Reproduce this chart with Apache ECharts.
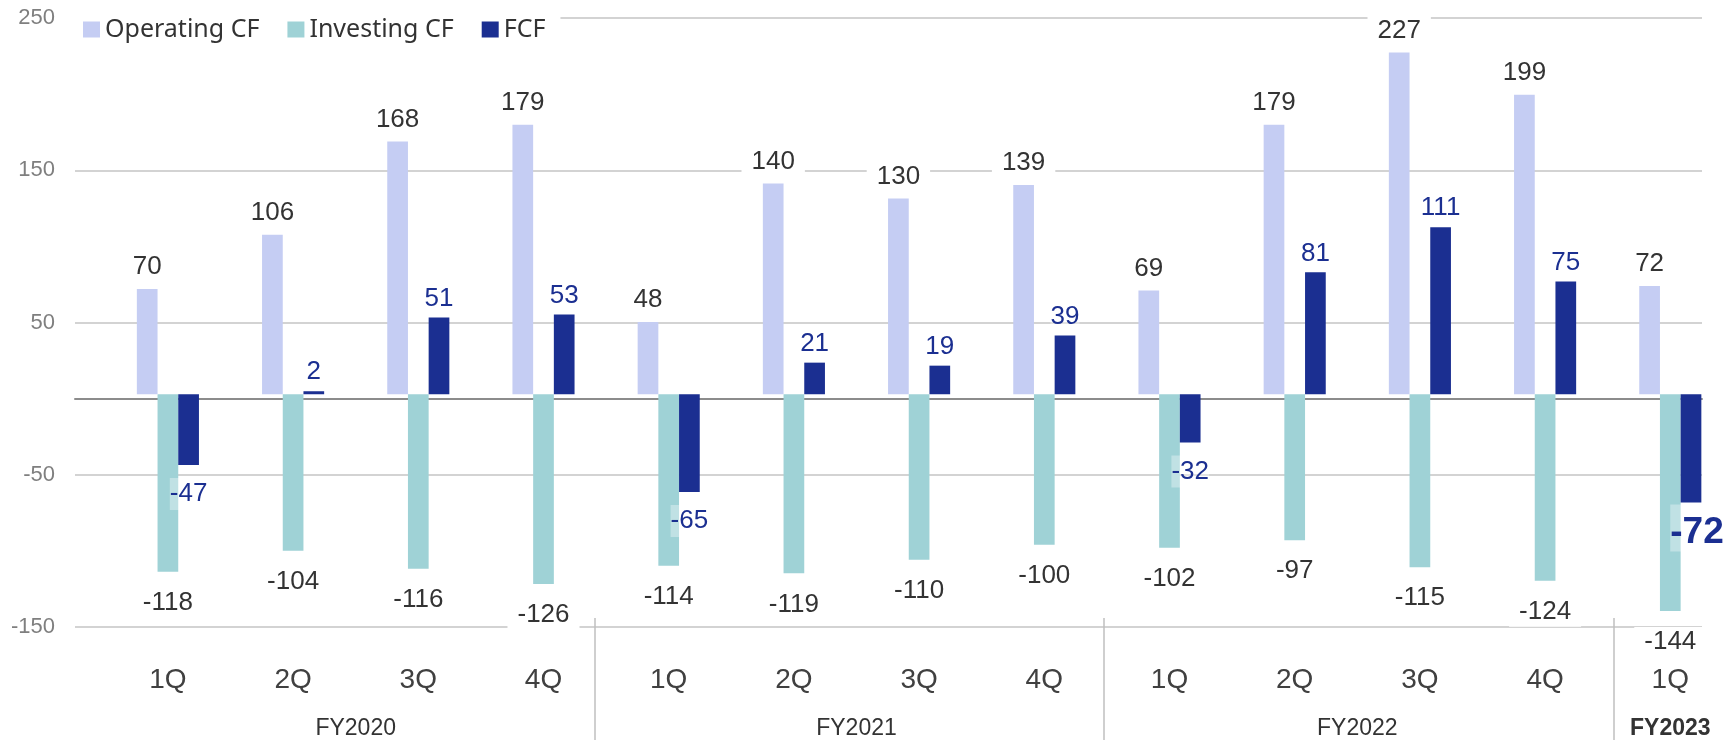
<!DOCTYPE html>
<html>
<head>
<meta charset="utf-8">
<style>
  html, body { margin: 0; padding: 0; background: #ffffff; overflow: hidden; }
  /* canvas runs a little past the window so the last band keeps its full width */
  #chart { width: 1760px; height: 740px; }
</style>
<script src="https://cdn.jsdelivr.net/npm/echarts@6/dist/echarts.min.js"></script>
</head>
<body>
<div id="chart"></div>
<script>
// Quarterly cash flow by fiscal year
const quarters = ['1Q', '2Q', '3Q', '4Q', '1Q', '2Q', '3Q', '4Q', '1Q', '2Q', '3Q', '4Q', '1Q'];
const fiscalYears = ['FY2020', 'FY2020', 'FY2020', 'FY2020',
                     'FY2021', 'FY2021', 'FY2021', 'FY2021',
                     'FY2022', 'FY2022', 'FY2022', 'FY2022',
                     'FY2023'];
const operatingCF = [70, 106, 168, 179, 48, 140, 130, 139, 69, 179, 227, 199, 72];
const investingCF = [-118, -104, -116, -126, -114, -119, -110, -100, -102, -97, -115, -124, -144];
const freeCF = [-47, 2, 51, 53, -65, 21, 19, 39, -32, 81, 111, 75, -72];
const seriesNames = ['Operating CF', 'Investing CF', 'FCF'];
const yMin = -150, yMax = 250, yStep = 100;

// layout
const W = 1760, H = 740;
const plotLeft = 75, plotRight = 1702, plotTop = 18, plotBottom = 627;
const barsLeft = 105.3, band = 125.2;
const barsWidth = band * quarters.length;
// the year separators sit on a slightly wider band than the bars
const sepLeft = 85.8, sepBand = 127.3;

const colors = { op: '#c5cdf3', inv: '#9fd2d6', fcf: '#1b2f91', text: '#333333', axis: '#7f7f7f', grid: '#c4c4c4', zero: '#8c8c8c' };
const FONT = '"Liberation Sans", Arial, sans-serif';

// fiscal-year groups, label anchored at the middle of each group
const groups = [];
fiscalYears.forEach((fy, i) => {
  if (!groups.length || groups[groups.length - 1].name !== fy) groups.push({ name: fy, start: i, count: 0 });
  groups[groups.length - 1].count++;
});
const anchorOf = {};
groups.forEach(g => { anchorOf[g.start + Math.floor((g.count - 1) / 2)] = g; });
const latestYear = groups[groups.length - 1].name;

const fyText = { fontSize: 23, color: '#333333', fontFamily: FONT };

const commonLabel = {
  show: true, fontSize: 26, fontFamily: FONT, color: colors.text,
  backgroundColor: '#ffffff', padding: [2, 10]
};
const fcfLabel = {
  show: true, fontSize: 26, fontFamily: FONT, color: colors.fcf,
  backgroundColor: 'rgba(255,255,255,0.35)', padding: [3, 0]
};

const fcfData = freeCF.map((v, i) => {
  if (i === freeCF.length - 1) {
    return { value: v, label: Object.assign({}, fcfLabel, {
      position: 'bottom', distance: 2, offset: [6, 0], fontSize: 37, fontWeight: 'bold', padding: [10, 0, 0, 0]
    }) };
  }
  return { value: v, label: Object.assign({}, fcfLabel, v < 0
    ? { position: 'bottom', distance: 13 }
    : { position: 'top', distance: 3 }) };
});

const chart = echarts.init(document.getElementById('chart'), null, { renderer: 'canvas', width: W, height: H });

chart.setOption({
  animation: false,
  backgroundColor: '#ffffff',
  legend: {
    data: seriesNames,
    left: plotLeft, top: 13,
    padding: [4, 15, 4, 8],
    backgroundColor: '#ffffff',
    itemWidth: 17, itemHeight: 16, itemGap: 28,
    icon: 'rect',
    textStyle: { fontSize: 25, color: '#333333', fontFamily: '"Noto Sans", sans-serif' }
  },
  grid: [
    { left: plotLeft, width: plotRight - plotLeft, top: plotTop, height: plotBottom - plotTop, containLabel: false },
    { left: barsLeft, width: barsWidth, top: plotTop, height: plotBottom - plotTop, containLabel: false },
    { left: sepLeft, width: sepBand * quarters.length, top: plotTop, height: plotBottom - plotTop, containLabel: false }
  ],
  yAxis: [
    {
      gridIndex: 0, type: 'value', min: yMin, max: yMax, interval: yStep,
      axisLine: { show: false }, axisTick: { show: false },
      axisLabel: { fontSize: 22, color: colors.axis, fontFamily: FONT, margin: 20 },
      splitLine: { show: true, lineStyle: { color: colors.grid, width: 1.5 } }
    },
    { gridIndex: 1, type: 'value', min: yMin, max: yMax, interval: yStep, show: false },
    { gridIndex: 2, type: 'value', min: yMin, max: yMax, interval: yStep, show: false }
  ],
  xAxis: [
    {
      // zero baseline across the plot area
      gridIndex: 0, type: 'category', data: [''],
      axisLine: { show: true, onZero: true, lineStyle: { color: colors.zero, width: 2 } },
      axisTick: { show: false }, axisLabel: { show: false }, splitLine: { show: false }
    },
    {
      gridIndex: 1, type: 'category', data: quarters, position: 'bottom',
      axisLine: { show: false, onZero: false }, axisTick: { show: false },
      axisLabel: { interval: 0, fontSize: 28, color: '#404040', fontFamily: FONT, margin: 46 }
    },
    {
      // fiscal-year names centred under their quarters
      gridIndex: 1, type: 'category', data: fiscalYears, position: 'bottom',
      axisLine: { show: false, onZero: false }, axisTick: { show: false },
      axisLabel: {
        margin: 97,
        interval: (i) => i in anchorOf,
        formatter: (v, i) => {
          const g = anchorOf[i];
          if (!g) return '';
          const key = (g.name === latestYear ? 'b' : 'n') + (g.count % 2 === 0 ? 's' : '');
          return '{' + key + '|' + g.name + '}';
        },
        rich: {
          n: fyText,
          ns: Object.assign({}, fyText, { padding: [0, 0, 0, band] }),
          b: Object.assign({}, fyText, { fontWeight: 'bold' }),
          bs: Object.assign({}, fyText, { fontWeight: 'bold', padding: [0, 0, 0, band] })
        }
      }
    },
    {
      // separators between fiscal years
      gridIndex: 2, type: 'category', data: fiscalYears, position: 'bottom', offset: -9,
      axisLine: { show: false, onZero: false },
      axisTick: {
        show: true, length: 125,
        interval: (i) => i > 0 && fiscalYears[i] !== fiscalYears[i - 1],
        lineStyle: { color: '#c0c0c0', width: 1.5 }
      },
      axisLabel: { show: false }
    }
  ],
  series: [
    {
      name: seriesNames[0], type: 'bar', xAxisIndex: 1, yAxisIndex: 1,
      data: operatingCF, barWidth: 20.7, barGap: '0%',
      itemStyle: { color: colors.op },
      label: Object.assign({}, commonLabel, { position: 'top', distance: 7 })
    },
    {
      name: seriesNames[1], type: 'bar', xAxisIndex: 1, yAxisIndex: 1,
      data: investingCF, barWidth: 20.7, barGap: '0%',
      itemStyle: { color: colors.inv },
      label: Object.assign({}, commonLabel, { position: 'bottom', distance: 16 })
    },
    {
      name: seriesNames[2], type: 'bar', xAxisIndex: 1, yAxisIndex: 1,
      data: fcfData, barWidth: 20.7, barGap: '0%',
      itemStyle: { color: colors.fcf }
    }
  ]
});
</script>
</body>
</html>
